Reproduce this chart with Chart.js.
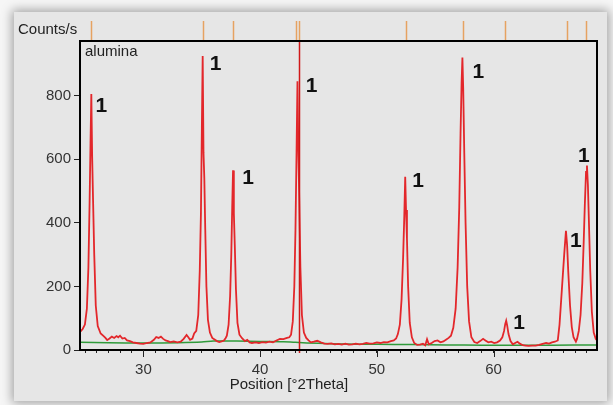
<!DOCTYPE html>
<html>
<head>
<meta charset="utf-8">
<script src="https://cdn.jsdelivr.net/npm/chart.js@4.4.1/dist/chart.umd.min.js"></script>
<style>
  body { margin: 0; background: #f6f6f6; width: 613px; height: 405px; overflow: hidden; }
  #panel { position: absolute; left: 14px; top: 12px; width: 593px; height: 389px; background: #e6e6e6;
           box-shadow: 0 0 10px 2px rgba(0,0,0,0.35); }
  #myChart { position: absolute; left: 0; top: 0; }
</style>
</head>
<body>
<div id="panel"></div>
<canvas id="myChart" width="613" height="405"></canvas>
<script>
// measured profile (2theta, counts/s)
const twoTheta = [
  24.60, 24.80, 24.99, 25.16, 25.29, 25.39, 25.47, 25.54, 25.61, 25.69, 25.79, 25.92, 26.09, 26.34,
  26.55, 26.75, 26.90, 27.10, 27.30, 27.50, 27.70, 27.85, 28.00, 28.20, 28.40, 28.60, 28.85, 29.10,
  29.40, 29.70, 30.00, 30.30, 30.60, 30.90, 31.10, 31.30, 31.50, 31.70, 31.90, 32.10, 32.30, 32.60,
  32.90, 33.20, 33.45, 33.70, 33.85, 34.00, 34.20, 34.35,
  34.53, 34.70, 34.83, 34.93, 35.01, 35.08, 35.15, 35.22, 35.30, 35.40, 35.53, 35.70,
  35.90, 36.10, 36.30, 36.50, 36.70, 36.90, 37.05,
  37.15, 37.30, 37.43, 37.53, 37.61, 37.68, 37.75, 37.83, 37.93, 38.06, 38.23,
  38.45, 38.70, 38.90, 39.10, 39.30, 39.60, 39.90, 40.20, 40.50, 40.80, 41.10, 41.40, 41.70, 42.00,
  42.30, 42.50,
  42.65, 42.80, 42.93, 43.03, 43.12, 43.20, 43.27, 43.35, 43.45, 43.58, 43.75,
  43.95, 44.15, 44.35, 44.60, 44.90, 45.20, 45.50, 45.80, 46.10, 46.40, 46.70, 47.00, 47.30, 47.60,
  47.90, 48.20, 48.50, 48.80, 49.10, 49.40, 49.70, 50.00, 50.30, 50.60, 50.90, 51.20, 51.45, 51.65,
  51.80, 51.97, 52.12, 52.25, 52.35, 52.43, 52.50, 52.58, 52.68, 52.82, 53.00,
  53.20, 53.45, 53.70, 53.95, 54.15, 54.30, 54.45, 54.70, 54.95, 55.20, 55.45, 55.70, 55.95, 56.15,
  56.35,
  56.55, 56.75, 56.92, 57.06, 57.17, 57.26, 57.33, 57.40, 57.49, 57.60, 57.74, 57.90, 58.10,
  58.35, 58.60, 58.85, 59.10, 59.30, 59.55, 59.80, 60.05, 60.30, 60.55,
  60.75, 60.90, 61.00, 61.08, 61.16, 61.28, 61.45,
  61.65, 61.85, 62.05, 62.25, 62.50, 62.75, 63.00, 63.30, 63.60, 63.90, 64.20, 64.50, 64.75, 65.00,
  65.25, 65.50,
  65.65, 65.85, 66.05, 66.20, 66.30, 66.40, 66.55, 66.70, 66.85, 67.05,
  67.15, 67.30, 67.45, 67.60, 67.72, 67.82, 67.92, 68.00, 68.08, 68.17, 68.28, 68.42, 68.58, 68.75,
  68.86
];
const counts = [
  58, 66, 80, 130, 260, 460, 650, 805, 610, 470, 300, 140, 75, 52,
  45, 38, 31, 36, 42, 38, 44, 40, 45, 36, 38, 30, 28, 24,
  22, 20, 19, 22, 24, 32, 41, 38, 42, 35, 30, 28, 25, 27,
  24, 26, 35, 47, 40, 32, 36, 52,
  60, 110, 250, 430, 700, 925, 620, 540, 380, 200, 95, 55,
  38, 33, 28, 25, 27, 30, 38,
  45, 80, 170, 300, 450, 565, 430, 330, 190, 85, 48,
  37, 28, 32, 24, 22, 24, 22, 25, 23, 26, 24, 30, 35, 34,
  38, 40,
  48, 90, 200, 380, 620, 845, 640, 480, 260, 110, 55,
  38, 30, 24, 26, 29, 24, 20, 19, 21, 18, 19, 17, 20, 17,
  18, 20, 18, 19, 22, 20, 21, 24, 22, 25, 24, 28, 30, 36,
  50, 80, 160, 290, 420, 545, 440, 350, 200, 85, 40,
  22, 16, 17, 20, 15, 34, 18, 22, 28, 30, 24, 27, 33, 38,
  45,
  70, 130, 260, 450, 680, 840, 920, 820, 620, 400, 200, 90, 40,
  25, 22, 28, 35, 30, 24, 26, 22, 24, 30,
  40, 60, 82, 92, 78, 50, 28,
  18, 22, 26, 20, 15, 14, 13, 14, 14, 16, 19, 22, 20, 24,
  26, 30,
  80, 190, 300, 375, 330, 245, 140, 72, 40, 26,
  35, 60, 110, 210, 340, 460, 560, 580, 520, 400, 250, 120, 55, 35,
  30
];

// fitted background
const bgTheta = [24.57, 27, 30, 33, 35, 36, 38, 40, 42, 43, 45, 47, 50, 53, 56, 59, 62, 65, 68.86];
const bgCounts = [24, 23, 22, 23, 25, 28, 28, 27, 26, 24, 21, 19, 18, 17, 16, 15, 15, 15, 16];

// axis ticks
const xTickValues = [25, 26, 27, 28, 29, 30, 31, 32, 33, 34, 35, 36, 37, 38, 39, 40, 41, 42, 43, 44, 45, 46,
  47, 48, 49, 50, 51, 52, 53, 54, 55, 56, 57, 58, 59, 60, 61, 62, 63, 64, 65, 66, 67, 68];
const xMajorTicks = [30, 40, 50, 60];
const yTickValues = [0, 200, 400, 600, 800];

// reference pattern stick positions (top markers)
const refLines = [25.54, 35.08, 37.68, 43.08, 43.30, 52.50, 57.36, 61.02, 66.30, 67.96];
// identified peaks: position, top, label
const peakPos = [25.54, 35.08, 37.68, 43.20, 52.43, 57.33, 61.08, 66.20, 68.00];
const peakTop = [805, 925, 565, 845, 545, 920, 92, 375, 580];
const peakLabel = ['1', '1', '1', '1', '1', '1', '1', '1', '1'];
const markerPos = 43.33;

const fontFam = '"Liberation Sans", Arial, sans-serif';

// offsets of the "1" labels from the peak tops, in px
const labelOffsets = [[10, 12], [13, 8], [15, 8], [14, 5], [13, 4], [16, 15], [13, 2], [10, 10], [-3, -9]];

const decoracao = {
  id: 'decoracao',
  afterDraw(chart) {
    const ctx = chart.ctx;
    const xs = chart.scales.x;
    const ys = chart.scales.y;
    const area = chart.chartArea;
    ctx.save();

    // reference sticks above the plot
    ctx.strokeStyle = '#e6a261';
    ctx.lineWidth = 1.5;
    refLines.forEach(p => {
      const x = Math.round(xs.getPixelForValue(p)) + 0.5;
      ctx.beginPath();
      ctx.moveTo(x, 21);
      ctx.lineTo(x, area.top);
      ctx.stroke();
    });

    // cursor line
    const mx = Math.round(xs.getPixelForValue(markerPos)) + 0.5;
    ctx.strokeStyle = '#d01818';
    ctx.lineWidth = 1.5;
    ctx.beginPath();
    ctx.moveTo(mx, area.top);
    ctx.lineTo(mx, area.bottom + 3);
    ctx.stroke();

    // frame
    ctx.strokeStyle = '#000';
    ctx.lineWidth = 2;
    ctx.strokeRect(area.left, area.top, area.right - area.left, area.bottom - area.top);

    // major x ticks
    ctx.lineWidth = 1;
    ctx.strokeStyle = '#222';
    xMajorTicks.forEach(v => {
      const x = Math.round(xs.getPixelForValue(v)) + 0.5;
      ctx.beginPath();
      ctx.moveTo(x, area.bottom);
      ctx.lineTo(x, area.bottom + 7);
      ctx.stroke();
    });

    // texts
    ctx.fillStyle = '#222';
    ctx.font = '15px ' + fontFam;
    ctx.textBaseline = 'middle';
    ctx.textAlign = 'left';
    ctx.fillText('Counts/s', 18, 30);
    ctx.fillText('alumina', 85, 52);
    ctx.textAlign = 'center';
    ctx.fillText('Position [°2Theta]', 289, 385);

    // peak labels
    ctx.fillStyle = '#111';
    ctx.font = 'bold 21px ' + fontFam;
    peakPos.forEach((p, i) => {
      const x = xs.getPixelForValue(p) + labelOffsets[i][0];
      const y = ys.getPixelForValue(peakTop[i]) + labelOffsets[i][1];
      ctx.fillText(peakLabel[i], x, y);
    });
    ctx.restore();
  }
};

const ctx1 = document.getElementById('myChart').getContext('2d');

const data1 = {
  datasets: [{
    data: twoTheta.map((t, i) => ({ x: t, y: counts[i] })),
    borderColor: '#e3272b',
    borderWidth: 1.8,
    pointRadius: 0,
    showLine: true,
    tension: 0
  }, {
    data: bgTheta.map((t, i) => ({ x: t, y: bgCounts[i] })),
    borderColor: '#2f9a3a',
    borderWidth: 1.5,
    pointRadius: 0,
    showLine: true,
    tension: 0.3
  }]
};

const options = {
  responsive: false,
  animation: false,
  devicePixelRatio: 1,
  layout: { padding: { left: 0, top: 41, right: 16, bottom: 0 } },
  plugins: {
    legend: { display: false },
    tooltip: { enabled: false }
  },
  scales: {
    x: {
      type: 'linear',
      min: 24.57,
      max: 68.86,
      afterFit: s => { s.height = 55; },
      afterBuildTicks: s => { s.ticks = xTickValues.map(v => ({ value: v })); },
      grid: { drawOnChartArea: false, drawTicks: true, tickLength: 3, color: '#222' },
      border: { display: true, color: '#000', width: 2 },
      ticks: {
        autoSkip: false,
        maxRotation: 0,
        padding: 8,
        color: '#333',
        font: { size: 15, family: fontFam },
        callback: v => (xMajorTicks.includes(v) ? v : '')
      }
    },
    y: {
      min: 0,
      max: 972,
      afterFit: s => { s.width = 80; },
      afterBuildTicks: s => { s.ticks = yTickValues.map(v => ({ value: v })); },
      grid: { drawOnChartArea: false, drawTicks: true, tickLength: 6, color: '#222' },
      border: { display: true, color: '#000', width: 2 },
      ticks: {
        padding: 3,
        color: '#333',
        font: { size: 15, family: fontFam }
      }
    }
  }
};

const chart1 = new Chart(ctx1, {
  type: 'scatter',
  data: data1,
  options: options,
  plugins: [decoracao]
});
</script>
</body>
</html>
